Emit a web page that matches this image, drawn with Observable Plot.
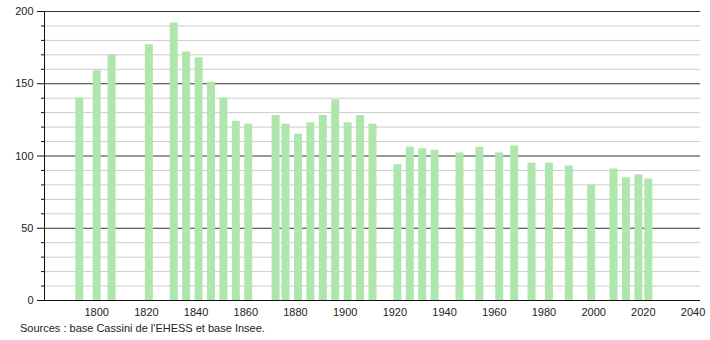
<!DOCTYPE html>
<html>
<head>
<meta charset="utf-8">
<script src="https://cdn.jsdelivr.net/npm/d3@7"></script>
<script src="https://cdn.jsdelivr.net/npm/@observablehq/plot@0.6"></script>
<style>
  body { margin: 0; background: #fff; font-family: "Liberation Sans", Arial, sans-serif; }
  #chart svg { display: block; }
  #caption { font-size: 11px; color: #222; padding-left: 20px; margin-top: 4px; }
</style>
</head>
<body>
<div id="chart"></div>
<div id="caption">Sources : base Cassini de l'EHESS et base Insee.</div>
<script>
const years = [1793, 1800, 1806, 1821, 1831, 1836, 1841, 1846, 1851, 1856, 1861,
  1872, 1876, 1881, 1886, 1891, 1896, 1901, 1906, 1911, 1921, 1926, 1931, 1936, 1946,
  1954, 1962, 1968, 1975, 1982, 1990, 1999, 2008, 2013, 2018, 2022];
const population = [140, 159, 170, 177, 192, 172, 168, 151, 140, 124, 122,
  128, 122, 115, 123, 128, 139, 123, 128, 122, 94, 106, 105, 104, 102,
  106, 102, 107, 95, 95, 93, 80, 91, 85, 87, 84];
const xTicks = [1800, 1820, 1840, 1860, 1880, 1900, 1920, 1940, 1960, 1980, 2000, 2020, 2040];
const yMajor = [0, 50, 100, 150, 200];
const yMinor = d3.range(0, 201, 10).filter(v => v % 50 !== 0);

const data = years.map((y, i) => ({year: y, pop: population[i]}));

const chart = Plot.plot({
  width: 710,
  height: 318,
  marginLeft: 44,
  marginRight: 10,
  marginTop: 11,
  marginBottom: 18,
  style: {fontFamily: "Liberation Sans, Arial, sans-serif", fontSize: "11px", color: "#222"},
  x: {type: "linear", domain: [1779, 2043], axis: null},
  y: {type: "linear", domain: [0, 200], axis: null},
  marks: [
    Plot.ruleY(yMinor, {stroke: "#cccccc", strokeWidth: 1}),
    Plot.ruleY(yMajor, {stroke: "#333", strokeWidth: 1}),
    Plot.ruleX(data, {x: "year", y1: 0, y2: "pop", stroke: "#aee6ae", strokeWidth: 8}),
    Plot.frame({anchor: "left", stroke: "#111"}),
    Plot.ruleY([0], {stroke: "#111", strokeWidth: 1}),
    Plot.axisY({ticks: yMinor, tickSize: 3, tickFormat: () => "", label: null, anchor: "left", stroke: "#111"}),
    Plot.axisY({ticks: yMajor, tickSize: 7, tickPadding: 4, label: null, anchor: "left", stroke: "#111", fill: "#222"}),
    Plot.axisX({ticks: xTicks, tickFormat: d => String(d), tickSize: 0, tickPadding: 8, label: null, anchor: "bottom", fill: "#222"})
  ]
});
document.getElementById("chart").appendChild(chart);
</script>
</body>
</html>
